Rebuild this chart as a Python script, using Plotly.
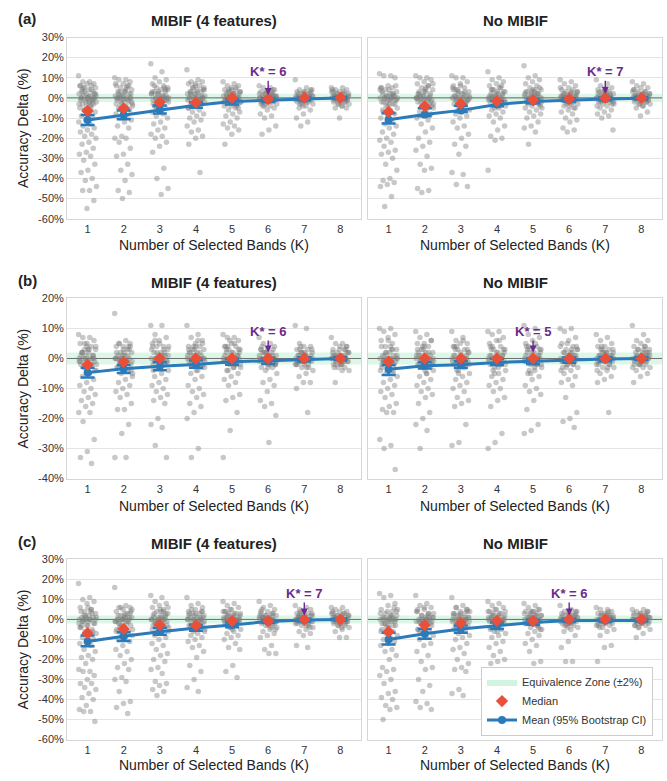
import plotly.graph_objects as go

# ---------------- data ----------------
K = [1, 2, 3, 4, 5, 6, 7, 8]
PANEL_TITLES = ["MIBIF (4 features)", "No MIBIF"]
ROW_LABELS = ["(a)", "(b)", "(c)"]
K_STAR = [6, 7, 6, 5, 7, 6]

# mean, CI (low/high) and median of accuracy delta (%) per K, per panel
mean_a_mibif = [-11.0, -8.5, -5.9, -3.6, -1.8, -1.0, -0.5, 0.0]
lo_a_mibif = [-13.5, -10.6, -7.7, -4.9, -3.3, -2.0, -1.2, -0.6]
hi_a_mibif = [-8.5, -6.2, -3.8, -2.1, -0.7, -0.2, 0.2, 0.5]
med_a_mibif = [-6.5, -5.2, -2.1, -2.3, 0.0, -0.5, 0.0, 0.0]

mean_a_nomibif = [-10.9, -8.2, -6.2, -3.3, -1.8, -1.0, -0.5, -0.2]
lo_a_nomibif = [-12.7, -9.1, -7.0, -4.2, -2.6, -1.8, -1.2, -0.8]
hi_a_nomibif = [-7.6, -5.1, -3.9, -1.5, -0.7, -0.2, 0.2, 0.4]
med_a_nomibif = [-7.0, -4.2, -2.9, -1.6, -1.1, -0.5, 0.0, 0.0]

mean_b_mibif = [-4.7, -3.4, -2.6, -2.0, -1.1, -0.8, -0.3, 0.0]
lo_b_mibif = [-6.3, -4.8, -3.9, -3.1, -2.1, -1.8, -1.0, -0.6]
hi_b_mibif = [-3.1, -2.2, -1.2, -0.7, -0.1, 0.1, 0.4, 0.6]
med_b_mibif = [-2.1, -1.1, 0.0, 0.0, 0.0, 0.0, 0.0, 0.0]

mean_b_nomibif = [-3.6, -2.4, -2.1, -1.3, -0.9, -0.5, -0.2, 0.0]
lo_b_nomibif = [-5.5, -3.3, -3.1, -2.2, -1.9, -1.4, -0.9, -0.6]
hi_b_nomibif = [-2.2, -1.2, -0.9, -0.1, 0.0, 0.3, 0.5, 0.6]
med_b_nomibif = [-1.0, 0.0, 0.0, 0.0, 0.0, 0.0, 0.0, 0.0]

mean_c_mibif = [-11.0, -8.4, -6.2, -4.3, -2.8, -1.0, -0.3, 0.0]
lo_c_mibif = [-13.4, -10.8, -7.7, -5.7, -3.9, -1.8, -1.0, -0.6]
hi_c_mibif = [-8.0, -6.4, -4.1, -2.6, -1.5, -0.3, 0.3, 0.5]
med_c_mibif = [-6.9, -4.8, -2.8, -3.0, -0.8, -0.8, 0.0, 0.0]

mean_c_nomibif = [-10.0, -7.2, -4.8, -3.1, -1.5, -0.5, -0.5, -0.5]
lo_c_nomibif = [-12.5, -9.7, -6.7, -4.8, -2.6, -1.2, -1.1, -1.0]
hi_c_nomibif = [-6.7, -4.8, -3.0, -1.5, -0.2, 0.2, 0.1, 0.0]
med_c_nomibif = [-6.2, -2.8, -1.8, -0.7, -0.8, 0.0, 0.0, 0.0]

# individual runs (%), one list per K (spread-out runs)
pts_a_mibif = [
    [11, 8, 8, 7, 7, 6, 6, 5, 5, 4, 3, 3, 2, 2, 1, 1, 0, 0, 0, -1, -1, -2, -2, -3, -3, -4, -5, -5, -6, -7, -8, -9, -10, -11, -12, -13, -14, -15, -16, -17, -18, -19, -20, -22, -23, -25, -27, -28, -29, -31, -33, -36, -37, -40, -41, -44, -46, -46, -51, -55],
    [10, 9, 9, 8, 7, 6, 6, 5, 4, 3, 3, 2, 1, 1, 0, 0, 0, -1, -1, -2, -3, -3, -4, -5, -6, -7, -8, -9, -10, -11, -12, -14, -15, -19, -20, -20, -22, -25, -28, -29, -33, -36, -38, -41, -46, -47, -50],
    [17, 13, 10, 9, 8, 7, 6, 5, 5, 4, 3, 3, 2, 2, 1, 0, 0, 0, -1, -1, -2, -2, -3, -4, -5, -6, -7, -8, -9, -10, -12, -13, -15, -16, -18, -19, -20, -22, -24, -27, -35, -40, -45, -48],
    [14, 9, 8, 8, 7, 7, 6, 5, 5, 4, 3, 3, 2, 2, 1, 1, 0, 0, 0, -1, -1, -2, -2, -3, -3, -4, -5, -6, -7, -8, -9, -10, -11, -12, -14, -16, -17, -19, -20, -23, -37],
    [8, 7, 6, 6, 5, 4, 4, 3, 3, 2, 2, 1, 1, 1, 0, 0, 0, 0, -1, -1, -1, -2, -2, -3, -3, -4, -4, -5, -6, -7, -8, -9, -10, -12, -13, -14, -15, -16, -18, -23],
    [6, 5, 5, 4, 3, 3, 2, 2, 1, 1, 1, 0, 0, 0, 0, -1, -1, -1, -2, -2, -3, -3, -4, -4, -5, -6, -8, -9, -10, -14, -16, -18],
    [9, 5, 4, 4, 3, 3, 2, 2, 1, 1, 1, 0, 0, 0, 0, -1, -1, -1, -2, -2, -3, -3, -4, -5, -6, -8, -10, -12, -14],
    [5, 5, 4, 4, 3, 3, 2, 2, 1, 1, 1, 0, 0, 0, 0, -1, -1, -1, -2, -2, -3, -3, -4, -5, -5, -10],
]
pts_a_nomibif = [
    [12, 11, 11, 10, 6, 5, 5, 4, 3, 2, 2, 1, 1, 0, 0, 0, -1, -1, -2, -3, -4, -5, -6, -7, -8, -9, -10, -11, -13, -14, -15, -17, -18, -20, -21, -22, -24, -26, -27, -28, -30, -33, -36, -40, -41, -42, -43, -44, -49, -54],
    [11, 10, 10, 9, 8, 7, 6, 5, 4, 3, 2, 1, 1, 0, 0, 0, -1, -1, -2, -3, -4, -5, -6, -7, -8, -9, -10, -11, -13, -15, -17, -20, -22, -24, -26, -29, -33, -35, -36, -45, -46, -47],
    [11, 10, 10, 8, 7, 6, 5, 4, 3, 2, 1, 1, 0, 0, 0, -1, -1, -2, -3, -4, -5, -6, -7, -8, -9, -10, -12, -14, -15, -18, -20, -23, -24, -28, -37, -38, -43, -44],
    [13, 10, 9, 8, 7, 6, 5, 4, 3, 2, 2, 1, 1, 0, 0, 0, -1, -1, -2, -2, -3, -4, -5, -6, -7, -8, -9, -10, -12, -14, -16, -19, -20, -21, -36],
    [16, 11, 10, 9, 8, 7, 6, 5, 4, 3, 3, 2, 2, 1, 1, 0, 0, 0, 0, -1, -1, -2, -2, -3, -3, -4, -5, -6, -7, -8, -9, -10, -12, -14, -15, -17, -23],
    [9, 8, 7, 6, 5, 4, 4, 3, 3, 2, 2, 1, 1, 0, 0, 0, 0, -1, -1, -2, -2, -3, -3, -4, -5, -6, -7, -8, -10, -11, -12, -15, -16, -17],
    [9, 7, 6, 5, 4, 4, 3, 3, 2, 2, 1, 1, 0, 0, 0, 0, -1, -1, -2, -2, -3, -3, -4, -5, -6, -7, -8, -9, -10, -16],
    [8, 7, 6, 5, 5, 4, 3, 3, 2, 2, 1, 1, 0, 0, 0, 0, -1, -1, -2, -2, -3, -3, -4, -5, -7, -9],
]
pts_b_mibif = [
    [8, 7, 7, 6, 5, 5, 4, 3, 3, 2, 2, 1, 1, 0, 0, 0, -1, -1, -2, -2, -3, -4, -5, -6, -7, -8, -9, -10, -11, -12, -13, -14, -15, -16, -18, -18, -21, -27, -31, -33, -35],
    [15, 6, 5, 5, 4, 4, 3, 2, 2, 1, 1, 0, 0, 0, -1, -1, -2, -2, -3, -4, -5, -6, -7, -8, -9, -10, -11, -12, -13, -15, -17, -17, -22, -25, -33, -33],
    [11, 11, 8, 7, 6, 5, 4, 4, 3, 2, 2, 1, 1, 0, 0, 0, -1, -1, -2, -2, -3, -4, -5, -6, -7, -8, -9, -10, -11, -12, -13, -14, -15, -20, -22, -23, -29, -33],
    [11, 8, 7, 6, 5, 4, 4, 3, 3, 2, 2, 1, 1, 0, 0, 0, 0, -1, -1, -2, -2, -3, -4, -5, -6, -7, -9, -10, -11, -12, -13, -15, -16, -18, -20, -30, -33],
    [8, 7, 7, 6, 5, 4, 4, 3, 3, 2, 2, 1, 1, 0, 0, 0, 0, -1, -1, -2, -2, -3, -3, -4, -5, -6, -7, -8, -9, -12, -13, -14, -18, -24, -33],
    [7, 5, 5, 4, 3, 3, 2, 2, 1, 1, 0, 0, 0, 0, -1, -1, -2, -2, -3, -3, -4, -5, -7, -8, -9, -11, -14, -15, -16, -19, -28],
    [11, 10, 5, 4, 4, 3, 3, 2, 2, 1, 1, 0, 0, 0, 0, -1, -1, -2, -2, -3, -3, -4, -5, -6, -8, -8, -10, -18],
    [7, 5, 5, 4, 4, 3, 3, 2, 2, 1, 1, 0, 0, 0, 0, -1, -1, -2, -2, -3, -3, -4, -4, -8],
]
pts_b_nomibif = [
    [10, 10, 9, 8, 7, 6, 5, 4, 3, 2, 1, 1, 0, 0, 0, -1, -1, -2, -3, -4, -5, -6, -7, -8, -9, -10, -11, -12, -13, -15, -16, -17, -18, -18, -27, -29, -30, -37],
    [9, 8, 7, 6, 5, 5, 4, 3, 2, 2, 1, 1, 0, 0, 0, 0, -1, -1, -2, -2, -3, -4, -5, -6, -7, -8, -9, -10, -11, -12, -13, -15, -18, -20, -22, -24, -30],
    [9, 7, 6, 5, 5, 4, 3, 3, 2, 1, 1, 0, 0, 0, 0, -1, -1, -2, -2, -3, -4, -5, -6, -7, -8, -9, -10, -11, -13, -14, -15, -16, -22, -28, -29],
    [9, 9, 8, 7, 6, 5, 4, 3, 3, 2, 1, 1, 0, 0, 0, 0, -1, -1, -2, -2, -3, -4, -5, -6, -7, -8, -9, -10, -11, -13, -14, -16, -25, -28, -30],
    [11, 10, 8, 7, 6, 5, 4, 3, 3, 2, 2, 1, 1, 0, 0, 0, 0, -1, -1, -2, -2, -3, -4, -5, -6, -7, -9, -10, -11, -12, -14, -17, -22, -24, -25],
    [10, 10, 9, 7, 6, 5, 4, 3, 3, 2, 2, 1, 1, 0, 0, 0, 0, -1, -1, -2, -2, -3, -4, -5, -6, -7, -8, -9, -13, -18, -20, -21, -23],
    [8, 7, 6, 5, 4, 4, 3, 3, 2, 2, 1, 1, 0, 0, 0, 0, -1, -1, -2, -2, -3, -3, -4, -5, -6, -7, -8, -18],
    [11, 8, 6, 6, 5, 4, 4, 3, 3, 2, 2, 1, 1, 0, 0, 0, 0, -1, -1, -2, -2, -3, -3, -4, -5, -6, -8],
]
pts_c_mibif = [
    [18, 11, 10, 9, 8, 6, 5, 4, 3, 2, 1, 1, 0, 0, 0, -1, -2, -3, -4, -5, -6, -7, -8, -9, -10, -11, -12, -13, -15, -16, -18, -19, -20, -22, -25, -26, -26, -28, -30, -32, -32, -34, -35, -37, -39, -40, -43, -45, -46, -46, -51],
    [16, 7, 6, 6, 5, 4, 3, 2, 1, 1, 0, 0, 0, -1, -1, -2, -3, -4, -5, -6, -7, -8, -9, -10, -11, -13, -15, -16, -18, -20, -22, -24, -25, -29, -30, -31, -36, -41, -42, -44, -47],
    [12, 11, 9, 8, 7, 6, 5, 4, 3, 2, 1, 1, 0, 0, 0, -1, -1, -2, -3, -4, -5, -6, -7, -8, -9, -10, -12, -13, -15, -17, -18, -20, -21, -24, -25, -27, -31, -32, -33, -35, -36, -38],
    [11, 8, 7, 6, 5, 4, 3, 3, 2, 1, 1, 0, 0, 0, -1, -1, -2, -2, -3, -4, -5, -6, -7, -8, -9, -10, -11, -13, -14, -16, -19, -23, -26, -30, -34, -36],
    [9, 8, 7, 6, 5, 4, 3, 3, 2, 1, 1, 0, 0, 0, 0, -1, -1, -2, -2, -3, -4, -5, -6, -7, -8, -9, -10, -12, -14, -15, -23, -26, -29],
    [9, 7, 6, 5, 4, 4, 3, 2, 2, 1, 1, 0, 0, 0, 0, -1, -1, -2, -2, -3, -3, -4, -5, -6, -7, -8, -9, -13, -15, -17, -17],
    [7, 6, 5, 5, 4, 3, 3, 2, 2, 1, 1, 0, 0, 0, 0, -1, -1, -2, -2, -3, -3, -4, -5, -6, -7, -8, -13, -14],
    [6, 6, 5, 4, 4, 3, 3, 2, 2, 1, 1, 0, 0, 0, 0, -1, -1, -2, -2, -3, -3, -4, -5, -6, -9, -9],
]
pts_c_nomibif = [
    [13, 12, 11, 8, 7, 5, 4, 3, 2, 1, 1, 0, 0, 0, -1, -2, -3, -4, -5, -6, -7, -8, -9, -10, -11, -12, -13, -15, -16, -18, -20, -24, -25, -26, -28, -30, -32, -36, -37, -39, -40, -43, -44, -45, -50],
    [12, 8, 7, 6, 5, 4, 3, 2, 1, 1, 0, 0, 0, -1, -1, -2, -3, -4, -5, -6, -7, -8, -9, -10, -12, -13, -16, -18, -21, -24, -25, -30, -33, -36, -41, -42, -44, -45],
    [11, 7, 6, 5, 4, 3, 3, 2, 1, 1, 0, 0, 0, -1, -1, -2, -3, -4, -5, -6, -7, -8, -9, -10, -12, -14, -15, -17, -20, -22, -24, -25, -26, -35, -37, -38],
    [9, 8, 7, 6, 5, 4, 3, 2, 2, 1, 1, 0, 0, 0, -1, -1, -2, -3, -4, -5, -6, -7, -8, -9, -11, -12, -14, -16, -18, -20, -21, -22, -30],
    [8, 7, 6, 5, 4, 4, 3, 2, 2, 1, 1, 0, 0, 0, 0, -1, -1, -2, -2, -3, -4, -5, -6, -7, -8, -10, -12, -13, -16, -21, -22, -30],
    [7, 5, 4, 4, 3, 3, 2, 2, 1, 1, 0, 0, 0, 0, 0, -1, -1, -2, -2, -3, -3, -4, -5, -6, -8, -11, -14, -21, -21],
    [6, 5, 5, 4, 3, 3, 2, 2, 1, 1, 0, 0, 0, 0, -1, -1, -2, -2, -3, -3, -4, -5, -6, -8, -13, -14, -21],
    [5, 5, 4, 4, 3, 3, 2, 2, 1, 1, 0, 0, 0, 0, -1, -1, -2, -2, -3, -3, -4, -5, -7, -9],
]

# additional runs inside the dense central clusters (%), one list per K
core_a_mibif = [
    [6, 4, 3, 2, 1, 0, -1, -2, -3, -4, 5, 2, 0, -1, -3, -6, 1, -2, 4, 0],
    [7, 5, 3, 2, 1, 0, -1, -2, -4, 4, 2, 0, -1, -3, -5, 1, -2, 3, 0, 6],
    [6, 4, 3, 2, 1, 0, -1, -2, -3, 5, 2, 0, -1, -4, 1, -2, 3, 0, -5, 4],
    [5, 4, 3, 2, 1, 0, -1, -2, -3, 4, 2, 0, -1, -4, 1, -2, 3, 0, 6, -5],
    [5, 4, 3, 2, 1, 0, -1, -2, -3, 3, 2, 0, -1, -4, 1, -2, 2, 0, -5, 4],
    [4, 3, 2, 1, 0, -1, -2, -3, 3, 2, 0, -1, -2, 1, -1, 0, 2, -4, 1, 0],
    [4, 3, 2, 1, 0, -1, -2, -3, 3, 2, 0, -1, -2, 1, -1, 0, 2, -4, 1, 0],
    [4, 3, 2, 1, 0, -1, -2, -3, 3, 2, 0, -1, -2, 1, -1, 0, 2, -4, 1, 0],
]
core_a_nomibif = [
    [6, 4, 3, 2, 1, 0, -1, -2, -3, -4, 5, 2, 0, -1, -3, -6, 1, -2, 4, 0],
    [7, 5, 3, 2, 1, 0, -1, -2, -4, 4, 2, 0, -1, -3, -5, 1, -2, 3, 0, 6],
    [6, 4, 3, 2, 1, 0, -1, -2, -3, 5, 2, 0, -1, -4, 1, -2, 3, 0, -5, 4],
    [5, 4, 3, 2, 1, 0, -1, -2, -3, 4, 2, 0, -1, -4, 1, -2, 3, 0, 6, -5],
    [5, 4, 3, 2, 1, 0, -1, -2, -3, 3, 2, 0, -1, -4, 1, -2, 2, 0, -5, 4],
    [5, 3, 2, 1, 0, -1, -2, -3, 3, 2, 0, -1, -2, 1, -1, 0, 2, -4, 1, -5],
    [4, 3, 2, 1, 0, -1, -2, -3, 3, 2, 0, -1, -2, 1, -1, 0, 2, -4, 1, 0],
    [4, 3, 2, 1, 0, -1, -2, -3, 3, 2, 0, -1, -2, 1, -1, 0, 2, -4, 1, 0],
]
core_b_mibif = [
    [5, 4, 3, 2, 1, 0, -1, -2, -3, -4, 3, 1, 0, -1, -2, -5, 2, 0, 4, -1],
    [5, 4, 3, 2, 1, 0, -1, -2, -3, 3, 1, 0, -1, -2, -4, 2, 0, 4, -1, -5],
    [5, 4, 3, 2, 1, 0, -1, -2, -3, 3, 1, 0, -1, -2, -4, 2, 0, 4, -1, 6],
    [5, 4, 3, 2, 1, 0, -1, -2, -3, 3, 1, 0, -1, -2, -4, 2, 0, 4, -1, 6],
    [5, 4, 3, 2, 1, 0, -1, -2, -3, 3, 1, 0, -1, -2, -4, 2, 0, 4, -1, 6],
    [4, 3, 2, 1, 0, -1, -2, -3, 3, 1, 0, -1, -2, 2, 0, 1, -1, 0, 2, -2],
    [4, 3, 2, 1, 0, -1, -2, -3, 3, 1, 0, -1, -2, 2, 0, 1, -1, 0, 2, -2],
    [4, 3, 2, 1, 0, -1, -2, -3, 3, 1, 0, -1, -2, 2, 0, 1, -1, 0, 2, -2],
]
core_b_nomibif = [
    [6, 4, 3, 2, 1, 0, -1, -2, -3, -4, 3, 1, 0, -1, -2, -5, 2, 0, 4, -1],
    [6, 4, 3, 2, 1, 0, -1, -2, -3, 3, 1, 0, -1, -2, -4, 2, 0, 4, -1, -5],
    [6, 4, 3, 2, 1, 0, -1, -2, -3, 3, 1, 0, -1, -2, -4, 2, 0, 4, -1, -5],
    [6, 4, 3, 2, 1, 0, -1, -2, -3, 3, 1, 0, -1, -2, -4, 2, 0, 4, -1, -5],
    [5, 4, 3, 2, 1, 0, -1, -2, -3, 3, 1, 0, -1, -2, -4, 2, 0, 4, -1, -5],
    [5, 4, 3, 2, 1, 0, -1, -2, -3, 3, 1, 0, -1, -2, -4, 2, 0, 4, -1, -3],
    [4, 3, 2, 1, 0, -1, -2, -3, 3, 1, 0, -1, -2, 2, 0, 1, -1, 0, 2, -4],
    [4, 3, 2, 1, 0, -1, -2, -3, 3, 1, 0, -1, -2, 2, 0, 1, -1, 0, 2, -2],
]
core_c_mibif = [
    [6, 4, 3, 2, 1, 0, -1, -2, -3, -4, 5, 2, 0, -1, -3, -6, 1, -2, 4, 0],
    [6, 5, 3, 2, 1, 0, -1, -2, -4, 4, 2, 0, -1, -3, -5, 1, -2, 3, 0, -6],
    [6, 4, 3, 2, 1, 0, -1, -2, -3, 5, 2, 0, -1, -4, 1, -2, 3, 0, -5, 4],
    [5, 4, 3, 2, 1, 0, -1, -2, -3, 4, 2, 0, -1, -4, 1, -2, 3, 0, -6, -5],
    [5, 4, 3, 2, 1, 0, -1, -2, -3, 3, 2, 0, -1, -4, 1, -2, 2, 0, -5, 4],
    [5, 3, 2, 1, 0, -1, -2, -3, 3, 2, 0, -1, -2, 1, -1, 0, 2, -4, 1, -5],
    [4, 3, 2, 1, 0, -1, -2, -3, 3, 2, 0, -1, -2, 1, -1, 0, 2, -4, 1, 0],
    [4, 3, 2, 1, 0, -1, -2, -3, 3, 2, 0, -1, -2, 1, -1, 0, 2, -4, 1, 0],
]
core_c_nomibif = [
    [6, 4, 3, 2, 1, 0, -1, -2, -3, -4, 5, 2, 0, -1, -3, -6, 1, -2, 4, 0],
    [6, 5, 3, 2, 1, 0, -1, -2, -4, 4, 2, 0, -1, -3, -5, 1, -2, 3, 0, -6],
    [6, 4, 3, 2, 1, 0, -1, -2, -3, 5, 2, 0, -1, -4, 1, -2, 3, 0, -5, 4],
    [5, 4, 3, 2, 1, 0, -1, -2, -3, 4, 2, 0, -1, -4, 1, -2, 3, 0, -6, -5],
    [5, 4, 3, 2, 1, 0, -1, -2, -3, 3, 2, 0, -1, -4, 1, -2, 2, 0, -5, 4],
    [4, 3, 2, 1, 0, -1, -2, -3, 3, 2, 0, -1, -2, 1, -1, 0, 2, -4, 1, 0],
    [4, 3, 2, 1, 0, -1, -2, -3, 3, 2, 0, -1, -2, 1, -1, 0, 2, -4, 1, 0],
    [4, 3, 2, 1, 0, -1, -2, -3, 3, 2, 0, -1, -2, 1, -1, 0, 2, -4, 1, 0],
]

Y_TICKS_WIDE = [-60, -50, -40, -30, -20, -10, 0, 10, 20, 30]
Y_TICKS_NARROW = [-40, -30, -20, -10, 0, 10, 20]
EQUIV = 2  # equivalence zone half-width (%)

# ---------------- assembly ----------------
panels = [
    (mean_a_mibif, lo_a_mibif, hi_a_mibif, med_a_mibif, pts_a_mibif, core_a_mibif),
    (mean_a_nomibif, lo_a_nomibif, hi_a_nomibif, med_a_nomibif, pts_a_nomibif, core_a_nomibif),
    (mean_b_mibif, lo_b_mibif, hi_b_mibif, med_b_mibif, pts_b_mibif, core_b_mibif),
    (mean_b_nomibif, lo_b_nomibif, hi_b_nomibif, med_b_nomibif, pts_b_nomibif, core_b_nomibif),
    (mean_c_mibif, lo_c_mibif, hi_c_mibif, med_c_mibif, pts_c_mibif, core_c_mibif),
    (mean_c_nomibif, lo_c_nomibif, hi_c_nomibif, med_c_nomibif, pts_c_nomibif, core_c_nomibif),
]
row_ticks = [Y_TICKS_WIDE, Y_TICKS_NARROW, Y_TICKS_WIDE]

W, H = 667, 781
FONT = "Liberation Sans, Arial, sans-serif"
BLUE = "#2b7bba"
RED = "#e8503a"
PURPLE = "#6c2a8f"
GREEN = "rgba(46,204,113,0.17)"

x_dom = [[67 / W, 361 / W], [368 / W, 662 / W]]
row_px = [(32, 216), (297, 480), (562, 745)]
y_dom = [[1 - b / H, 1 - t / H] for t, b in row_px]

fig = go.Figure()
layout = dict(
    width=W, height=H, margin=dict(l=0, r=0, t=0, b=0),
    plot_bgcolor="white", paper_bgcolor="white",
    font=dict(family=FONT, color="#333"),
    showlegend=True,
)
annotations = []
shapes = []

# legend-only entry for equivalence zone
fig.add_trace(go.Scatter(x=[None], y=[None], mode="lines", fill="toself",
                         fillcolor="rgba(46,204,113,0.22)", line=dict(width=0, color="rgba(0,0,0,0)"),
                         name="Equivalence Zone (±2%)", legendrank=1, showlegend=True))

GOLD = 0.6180339887
for p, (mean, lo, hi, med, pts, core) in enumerate(panels):
    r, c = divmod(p, 2)
    n = p + 1
    xa = "x" if n == 1 else f"x{n}"
    ya = "y" if n == 1 else f"y{n}"
    ticks = row_ticks[r]

    layout["xaxis" if n == 1 else f"xaxis{n}"] = dict(
        domain=x_dom[c], anchor=ya, range=[0.43, 8.57], tickvals=K,
        showgrid=False, zeroline=False, showline=True, mirror=True,
        linecolor="#d6d6d6", linewidth=1, ticks="",
        tickfont=dict(size=11, color="#333"),
    )
    layout["yaxis" if n == 1 else f"yaxis{n}"] = dict(
        domain=y_dom[r], anchor=xa, range=[ticks[0], ticks[-1]],
        tickvals=ticks, ticktext=[f"{v}%" for v in ticks],
        showticklabels=(c == 0), showgrid=True, gridcolor="#e4e4e4", gridwidth=1,
        zeroline=False, showline=True, mirror=True, linecolor="#d6d6d6", linewidth=1,
        ticks="", tickfont=dict(size=11, color="#333"),
    )

    # equivalence band + zero line
    shapes.append(dict(type="rect", xref=xa, yref=ya, x0=0.43, x1=8.57, y0=-EQUIV, y1=EQUIV,
                       fillcolor=GREEN, line=dict(width=0), layer="between"))
    shapes.append(dict(type="line", xref=xa, yref=ya, x0=0.43, x1=8.57, y0=0, y1=0,
                       line=dict(color="#6f6f6f", width=1), layer="between"))

    # jittered runs (horizontal jitter only)
    xs, ys = [], []
    for k, vals, extra in zip(K, pts, core):
        allv = vals + extra
        for i, v in enumerate(allv):
            xs.append(k + ((i * GOLD) % 1 - 0.5) * 0.5)
            ys.append(v)
    fig.add_trace(go.Scatter(x=xs, y=ys, xaxis=xa, yaxis=ya, mode="markers",
                             marker=dict(size=5.5, color="rgba(125,125,125,0.42)", line=dict(width=0)),
                             showlegend=False, hoverinfo="skip"))

    # mean with CI
    fig.add_trace(go.Scatter(
        x=K, y=mean, xaxis=xa, yaxis=ya, mode="lines+markers",
        line=dict(color=BLUE, width=3), marker=dict(size=8, color=BLUE),
        error_y=dict(type="data", symmetric=False,
                     array=[h - m for h, m in zip(hi, mean)],
                     arrayminus=[m - l for m, l in zip(mean, lo)],
                     color=BLUE, thickness=2.5, width=7),
        name="Mean (95% Bootstrap CI)", legendrank=3, showlegend=(p == 0)))

    # median
    fig.add_trace(go.Scatter(
        x=K, y=med, xaxis=xa, yaxis=ya, mode="markers",
        marker=dict(symbol="diamond", size=9.5, color=RED, line=dict(width=0)),
        name="Median", legendrank=2, showlegend=(p == 0)))

    # K* annotation
    ks = K_STAR[p]
    text_y = 13 if r != 1 else 9
    annotations.append(dict(
        x=ks, y=med[ks - 1] + 2, xref=xa, yref=ya, ax=ks, ay=text_y,
        axref=xa, ayref=ya, text=f"<b>K* = {ks}</b>", showarrow=True,
        arrowhead=2, arrowsize=1, arrowwidth=1.4, arrowcolor=PURPLE, standoff=0,
        font=dict(size=13, color=PURPLE, family=FONT)))

    # panel title
    t_px = [15, 281, 546][r]
    annotations.append(dict(
        x=sum(x_dom[c]) / 2, y=1 - t_px / H, xref="paper", yref="paper",
        text=f"<b>{PANEL_TITLES[c]}</b>", showarrow=False, xanchor="center", yanchor="middle",
        font=dict(size=15, color="#222", family=FONT)))

    # x axis title
    xt_px = [243, 508, 771][r]
    annotations.append(dict(
        x=sum(x_dom[c]) / 2, y=1 - xt_px / H, xref="paper", yref="paper",
        text="Number of Selected Bands (K)", showarrow=False, xanchor="center", yanchor="middle",
        font=dict(size=14, color="#222", family=FONT)))

    if c == 0:
        annotations.append(dict(
            x=23 / W, y=sum(y_dom[r]) / 2, xref="paper", yref="paper",
            text="Accuracy Delta (%)", textangle=-90, showarrow=False,
            xanchor="center", yanchor="middle",
            font=dict(size=14, color="#222", family=FONT)))
        annotations.append(dict(
            x=16 / W, y=1 - (t_px - 2) / H, xref="paper", yref="paper",
            text=f"<b>{ROW_LABELS[r]}</b>", showarrow=False, xanchor="left", yanchor="middle",
            font=dict(size=15, color="#222", family=FONT)))

layout["annotations"] = annotations
layout["shapes"] = shapes
layout["legend"] = dict(
    x=653 / W, y=1 - 741 / H, xanchor="right", yanchor="bottom",
    bgcolor="white", bordercolor="#cccccc", borderwidth=1,
    font=dict(size=11, color="#333", family=FONT), traceorder="normal",
)
fig.update_layout(**layout)
fig.write_html("out.html")
